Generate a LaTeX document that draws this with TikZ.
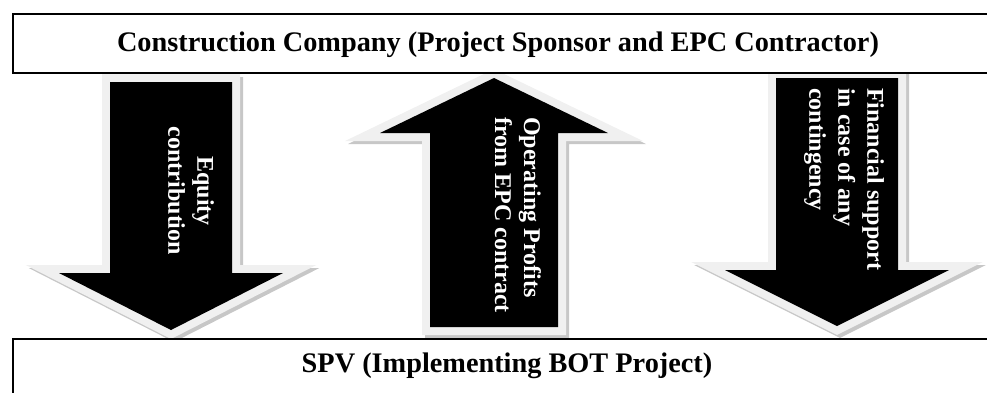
\documentclass[tikz,border=0pt]{standalone}
\usepackage{fontspec}
\setmainfont{Liberation Serif}

\begin{document}
\begin{tikzpicture}[x=1pt, y=-1pt,
    boxline/.style={line width=2pt, draw=black, fill=white},
    shadowline/.style={line width=16pt, line join=miter, draw=black!22},
    rimline/.style={line width=16pt, line join=miter, draw=black!6, fill=black},
    bigtext/.style={font=\fontsize{28.3}{34}\selectfont\bfseries, inner sep=0pt},
    arrowtext/.style={font=\fontsize{24}{29}\selectfont\bfseries, inner sep=0pt,
      text=white, rotate=-90}]
  % 设定参数（单位约为像素）
  \def\s{61}   % 箭身半宽
  \def\w{112}  % 箭头半宽

  % 画布
  \useasboundingbox (0,0) rectangle (987,392);

  % 1. 左侧向下箭头：中心 x=171，箭身顶 82，箭头底 273，尖 330
  \def\c{171}
  \draw[shadowline, shift={(3,3)}] (\c-\s,82) -- (\c+\s,82) -- (\c+\s,273) -- (\c+\w,273)
    -- (\c,330) -- (\c-\w,273) -- (\c-\s,273) -- cycle;
  \filldraw[rimline] (\c-\s,82) -- (\c+\s,82) -- (\c+\s,273) -- (\c+\w,273)
    -- (\c,330) -- (\c-\w,273) -- (\c-\s,273) -- cycle;
  \fill[black] (\c-\s,82) -- (\c+\s,82) -- (\c+\s,273) -- (\c+\w,273)
    -- (\c,330) -- (\c-\w,273) -- (\c-\s,273) -- cycle;

  % 2. 中间向上箭头：中心 x=494，尖 78，箭头底 133，箭身底 327
  \def\c{494}
  \draw[shadowline, shift={(3,3)}] (\c,78) -- (\c+\w+2,133) -- (\c+\s+3,133) -- (\c+\s+3,327)
    -- (\c-\s-3,327) -- (\c-\s-3,133) -- (\c-\w-2,133) -- cycle;
  \filldraw[rimline] (\c,78) -- (\c+\w+2,133) -- (\c+\s+3,133) -- (\c+\s+3,327)
    -- (\c-\s-3,327) -- (\c-\s-3,133) -- (\c-\w-2,133) -- cycle;
  \fill[black] (\c,78) -- (\c+\w+2,133) -- (\c+\s+3,133) -- (\c+\s+3,327)
    -- (\c-\s-3,327) -- (\c-\s-3,133) -- (\c-\w-2,133) -- cycle;

  % 3. 右侧向下箭头：中心 x=837，箭身顶 78，箭头底 270，尖 326
  \def\c{837}
  \draw[shadowline, shift={(3,3)}] (\c-\s,78) -- (\c+\s,78) -- (\c+\s,270) -- (\c+\w,270)
    -- (\c,326) -- (\c-\w,270) -- (\c-\s,270) -- cycle;
  \filldraw[rimline] (\c-\s,78) -- (\c+\s,78) -- (\c+\s,270) -- (\c+\w,270)
    -- (\c,326) -- (\c-\w,270) -- (\c-\s,270) -- cycle;
  \fill[black] (\c-\s,78) -- (\c+\s,78) -- (\c+\s,270) -- (\c+\w,270)
    -- (\c,326) -- (\c-\w,270) -- (\c-\s,270) -- cycle;

  % 4. 上下两个框（右侧出画）
  \draw[boxline] (13,14) rectangle (1000,73);
  \draw[boxline] (13,339) rectangle (1000,410);
  \node[bigtext] (company) at (498,45) {Construction Company (Project Sponsor and EPC Contractor)};
  \node[bigtext] (spv) at (507,366) {SPV (Implementing BOT Project)};

  % 5. 箭头上的竖排文字
  \node[arrowtext, align=center] (equity) at (191,191) {Equity\\contribution};
  \node[arrowtext, align=left, anchor=west] (profits) at (518,117) {Operating Profits\\from EPC contract};
  \node[arrowtext, align=left, anchor=west] (support) at (844,88) {Financial support\\in case of any\\contingency};

\end{tikzpicture}
\end{document}
